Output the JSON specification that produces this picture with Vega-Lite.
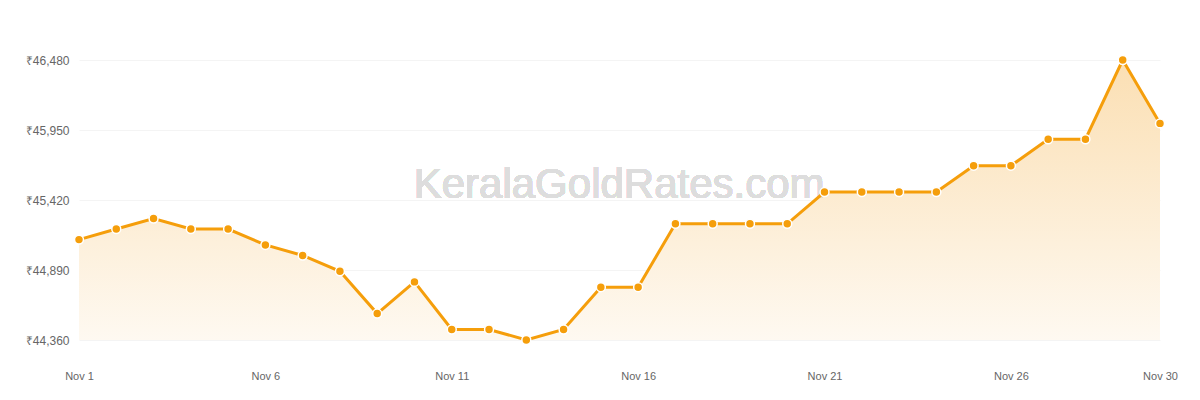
{
  "$schema": "https://vega.github.io/schema/vega-lite/v6.json",
  "width": 1081,
  "height": 280,
  "autosize": {"type": "none"},
  "padding": {"left": 79, "top": 60, "right": 40, "bottom": 60},
  "background": "#ffffff",
  "data": {
    "values": [
      {"day": 1, "rate": 45120},
      {"day": 2, "rate": 45200},
      {"day": 3, "rate": 45280},
      {"day": 4, "rate": 45200},
      {"day": 5, "rate": 45200},
      {"day": 6, "rate": 45080},
      {"day": 7, "rate": 45000},
      {"day": 8, "rate": 44880},
      {"day": 9, "rate": 44560},
      {"day": 10, "rate": 44800},
      {"day": 11, "rate": 44440},
      {"day": 12, "rate": 44440},
      {"day": 13, "rate": 44360},
      {"day": 14, "rate": 44440},
      {"day": 15, "rate": 44760},
      {"day": 16, "rate": 44760},
      {"day": 17, "rate": 45240},
      {"day": 18, "rate": 45240},
      {"day": 19, "rate": 45240},
      {"day": 20, "rate": 45240},
      {"day": 21, "rate": 45480},
      {"day": 22, "rate": 45480},
      {"day": 23, "rate": 45480},
      {"day": 24, "rate": 45480},
      {"day": 25, "rate": 45680},
      {"day": 26, "rate": 45680},
      {"day": 27, "rate": 45880},
      {"day": 28, "rate": 45880},
      {"day": 29, "rate": 46480},
      {"day": 30, "rate": 46000}
    ]
  },
  "encoding": {
    "x": {
      "field": "day",
      "type": "quantitative",
      "title": null,
      "scale": {"domain": [1, 30], "nice": false, "zero": false},
      "axis": {
        "values": [1, 6, 11, 16, 21, 26, 30],
        "labelExpr": "'Nov ' + datum.value",
        "labelFlush": false,
        "grid": false,
        "domain": false,
        "ticks": false,
        "labelPadding": 30,
        "labelFontSize": 11,
        "labelColor": "#666666",
        "labelFont": "Liberation Sans"
      }
    },
    "y": {
      "field": "rate",
      "type": "quantitative",
      "title": null,
      "scale": {"domain": [44360, 46480], "nice": false, "zero": false},
      "axis": {
        "values": [44360, 44890, 45420, 45950, 46480],
        "labelExpr": "'₹' + format(datum.value, ',')",
        "grid": true,
        "gridColor": "#f4f4f4",
        "gridWidth": 1,
        "domain": false,
        "ticks": false,
        "labelPadding": 10,
        "labelFontSize": 12,
        "labelColor": "#666666",
        "labelFont": "Liberation Sans"
      }
    }
  },
  "layer": [
    {
      "mark": {
        "type": "area",
        "color": {
          "gradient": "linear",
          "x1": 0, "y1": 0, "x2": 0, "y2": 1,
          "stops": [
            {"offset": 0, "color": "#fbdfb3"},
            {"offset": 1, "color": "#fef9f1"}
          ]
        }
      },
      "encoding": {
        "y2": {"datum": 44360}
      }
    },
    {
      "mark": {
        "type": "text",
        "text": "KeralaGoldRates.com",
        "font": "Liberation Sans",
        "fontSize": 42,
        "color": "#dddddd",
        "align": "center",
        "baseline": "middle"
      },
      "encoding": {
        "x": {"datum": 15.49},
        "y": {"datum": 45530}
      }
    },
    {
      "mark": {"type": "line", "color": "#f59e0b", "strokeWidth": 3}
    },
    {
      "mark": {
        "type": "point",
        "filled": true,
        "fill": "#f59e0b",
        "stroke": "#ffffff",
        "strokeWidth": 1.5,
        "size": 80,
        "opacity": 1
      }
    }
  ],
  "config": {
    "view": {"stroke": null}
  }
}
